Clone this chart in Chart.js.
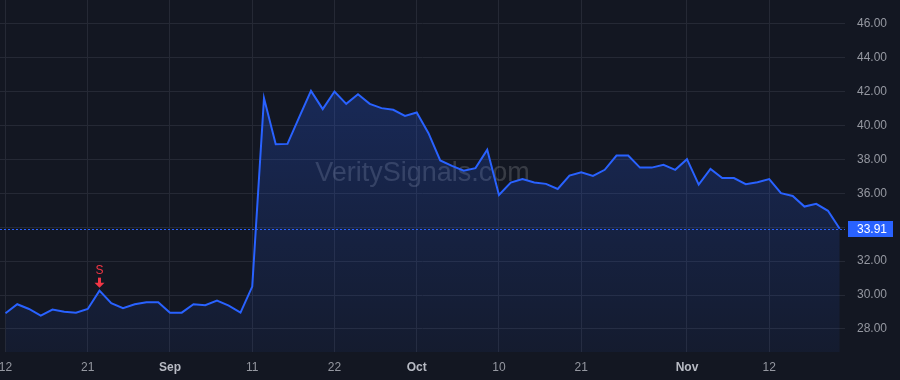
<!DOCTYPE html>
<html><head><meta charset="utf-8">
<script src="https://cdn.jsdelivr.net/npm/chart.js@4.4.1/dist/chart.umd.min.js"></script>
<style>html,body{margin:0;padding:0;background:#131722;overflow:hidden;}#wrap{width:900px;height:380px;position:relative;}</style>
</head><body><div id="wrap"><canvas id="c" width="900" height="380"></canvas></div>
<script>
// ---- data ----
const dates = [
 '2025-08-12','2025-08-13','2025-08-14','2025-08-15','2025-08-18','2025-08-19','2025-08-20','2025-08-21','2025-08-22','2025-08-25','2025-08-26','2025-08-27','2025-08-28','2025-08-29',
 '2025-09-02','2025-09-03','2025-09-04','2025-09-05','2025-09-08','2025-09-09','2025-09-10','2025-09-11','2025-09-12','2025-09-15','2025-09-16','2025-09-17','2025-09-18','2025-09-19','2025-09-22','2025-09-23','2025-09-24','2025-09-25','2025-09-26','2025-09-29','2025-09-30',
 '2025-10-01','2025-10-02','2025-10-03','2025-10-06','2025-10-07','2025-10-08','2025-10-09','2025-10-10','2025-10-13','2025-10-14','2025-10-15','2025-10-16','2025-10-17','2025-10-20','2025-10-21','2025-10-22','2025-10-23','2025-10-24','2025-10-27','2025-10-28','2025-10-29','2025-10-30','2025-10-31',
 '2025-11-03','2025-11-04','2025-11-05','2025-11-06','2025-11-07','2025-11-10','2025-11-11','2025-11-12','2025-11-13','2025-11-14','2025-11-17','2025-11-18','2025-11-19','2025-11-20'
];
const prices = [
 28.93, 29.46, 29.18, 28.79, 29.14, 29.02, 28.96, 29.18, 30.26, 29.52, 29.22, 29.46,
 29.58, 29.58, 28.96, 28.96, 29.46, 29.40, 29.67, 29.38, 28.96, 30.50,
 41.62, 38.90, 38.92, 40.50, 42.05, 40.97, 42.01, 41.28, 41.85, 41.28, 41.03, 40.93, 40.57, 40.77,
 39.55, 37.94, 37.62, 37.34, 37.49, 38.57, 35.91, 36.64, 36.85, 36.64, 36.56,
 36.26, 37.05, 37.25, 37.03, 37.39, 38.23, 38.23, 37.52, 37.52, 37.68, 37.39, 38.02, 36.52,
 37.44, 36.90, 36.90, 36.54, 36.66, 36.84, 36.01, 35.85, 35.22, 35.38, 34.97, 33.91
];
const xTickDates = ['2025-08-12','2025-08-21','2025-09-02','2025-09-11','2025-09-22','2025-10-01','2025-10-10','2025-10-21','2025-11-03','2025-11-12'];
const xTickLabels = ['12','21','Sep','11','22','Oct','10','21','Nov','12'];
const monthLabels = ['Sep','Oct','Nov'];
const yTicks = [28,30,32,34,36,38,40,42,44,46];
const signalDates = ['2025-08-22'];
const signalLabels = ['S'];
const watermarkText = 'VeritySignals.com';

// ---- chart ----
const FONT = '"Liberation Sans", Arial, sans-serif';
const BLUE = '#2962ff';
const lastPrice = prices[prices.length - 1];
const points = prices.map((v, i) => ({x: i, y: v}));
const tickIndex = xTickDates.map(d => dates.indexOf(d));
function labelFor(v){ const k = tickIndex.indexOf(v); return k >= 0 ? xTickLabels[k] : ''; }
function zeroPad(s){ s.paddingLeft = 0; s.paddingRight = 0; s.paddingTop = 0; s.paddingBottom = 0; }

const bgPlugin = {
  id: 'bg',
  beforeDraw(chart){
    const c = chart.ctx; c.save(); c.fillStyle = '#131722'; c.fillRect(0,0,chart.width,chart.height); c.restore();
  },
  beforeDatasetsDraw(chart){
    const c = chart.ctx, a = chart.chartArea;
    c.save();
    c.font = '27px ' + FONT;
    c.fillStyle = 'rgba(255,255,255,0.16)';
    c.textAlign = 'center'; c.textBaseline = 'middle';
    c.fillText(watermarkText, (a.left + a.right)/2, (a.top + a.bottom)/2 - 2);
    c.restore();
  },
  afterDatasetsDraw(chart){
    const c = chart.ctx, a = chart.chartArea, xs = chart.scales.x, ys = chart.scales.y;
    signalDates.forEach((d, k) => {
      const i = dates.indexOf(d);
      const px = xs.getPixelForValue(i), py = ys.getPixelForValue(prices[i]);
      const tip = py - 3;
      c.save();
      c.fillStyle = '#f23645';
      c.fillRect(px - 1.5, tip - 10, 3, 5.5);
      c.beginPath(); c.moveTo(px - 5, tip - 5); c.lineTo(px + 5, tip - 5); c.lineTo(px, tip); c.closePath(); c.fill();
      c.font = '12px ' + FONT; c.textAlign = 'center'; c.textBaseline = 'middle';
      c.fillText(signalLabels[k], px, tip - 17);
      c.restore();
    });
    const ly = Math.round(ys.getPixelForValue(lastPrice)) + 0.5;
    c.save();
    c.strokeStyle = BLUE; c.lineWidth = 1; c.setLineDash([2,2]);
    c.beginPath(); c.moveTo(a.left, ly); c.lineTo(a.right, ly); c.stroke();
    c.restore();
  },
  afterDraw(chart){
    const c = chart.ctx, a = chart.chartArea, ys = chart.scales.y;
    const ly = ys.getPixelForValue(lastPrice);
    c.save();
    c.fillStyle = BLUE;
    c.fillRect(a.right + 3, Math.round(ly) - 8, 45, 16);
    c.fillStyle = '#ffffff'; c.font = '12px ' + FONT; c.textAlign = 'left'; c.textBaseline = 'middle';
    c.fillText(lastPrice.toFixed(2), a.right + 12, ly + 0.5);
    c.restore();
  }
};

new Chart(document.getElementById('c'), {
  type: 'line',
  data: {
    datasets: [{
      data: points,
      borderColor: BLUE,
      borderWidth: 2,
      pointRadius: 0,
      tension: 0,
      fill: 'start',
      clip: false,
      backgroundColor: (ctx) => {
        const a = ctx.chart.chartArea;
        if (!a) return 'rgba(41,98,255,0.15)';
        const g = ctx.chart.ctx.createLinearGradient(0, a.top, 0, a.bottom);
        g.addColorStop(0, 'rgba(41,98,255,0.30)');
        g.addColorStop(1, 'rgba(41,98,255,0.06)');
        return g;
      }
    }]
  },
  options: {
    responsive: false,
    animation: false,
    devicePixelRatio: 1,
    layout: {padding: 0, autoPadding: false},
    plugins: {legend: {display: false}, tooltip: {enabled: false}},
    scales: {
      x: {
        type: 'linear',
        min: -0.468,
        max: 71.45,
        afterBuildTicks: (s) => { s.ticks = tickIndex.map(v => ({value: v})); },
        afterFit: (s) => { s.height = 28; zeroPad(s); },
        grid: {color: '#252935', drawTicks: false, lineWidth: 1},
        border: {display: false},
        ticks: {
          autoSkip: false, maxRotation: 0, padding: 8,
          callback: (v) => labelFor(v),
          color: (ctx) => monthLabels.includes(labelFor(ctx.tick && ctx.tick.value)) ? '#b8bbc4' : '#9598a1',
          font: (ctx) => ({family: FONT, size: 12, weight: monthLabels.includes(labelFor(ctx.tick && ctx.tick.value)) ? 'bold' : 'normal'})
        }
      },
      y: {
        type: 'linear',
        position: 'right',
        min: 26.64,
        max: 47.41,
        afterBuildTicks: (s) => { s.ticks = yTicks.map(v => ({value: v})); },
        afterFit: (s) => { s.width = 55; zeroPad(s); },
        grid: {color: '#252935', drawTicks: false, lineWidth: 1},
        border: {display: false},
        ticks: {
          padding: 12,
          color: '#9598a1',
          font: {family: FONT, size: 12},
          callback: (v) => Math.abs(v - lastPrice) < 0.6 ? '' : Number(v).toFixed(2)
        }
      }
    }
  },
  plugins: [bgPlugin]
});
</script>
</body></html>
